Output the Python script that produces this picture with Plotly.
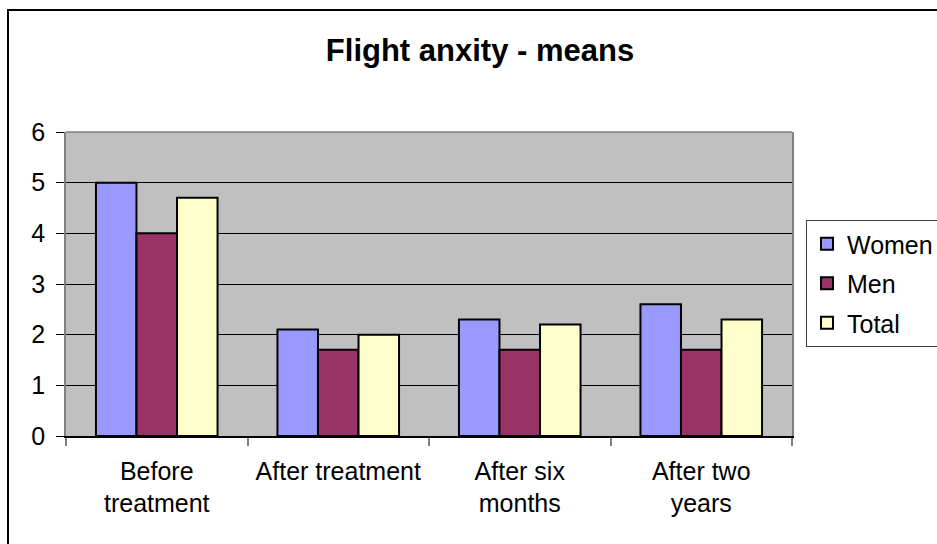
import plotly.graph_objects as go

# Mean flight-anxiety scores at each measurement point
categories = ["Before<br>treatment", "After treatment", "After six<br>months", "After two<br>years"]
women = [5.0, 2.1, 2.3, 2.6]
men = [4.0, 1.7, 1.7, 1.7]
total = [4.7, 2.0, 2.2, 2.3]

series = [
    ("Women", women, "#9999FF"),
    ("Men", men, "#993366"),
    ("Total", total, "#FFFFCC"),
]

FONT = "Arial, 'Liberation Sans', sans-serif"

fig = go.Figure()
for i, (name, vals, color) in enumerate(series):
    fig.add_trace(go.Bar(
        name=name, x=categories, y=vals,
        marker=dict(color=color, line=dict(color="black", width=2)),
        legendgroup=f"g{i}",
    ))

W, H = 937, 544
L, R, T, B = 66, 145, 132, 108
pw, ph = W - L - R, H - T - B

def px_x(p):
    return (p - L) / pw

def px_y(p):
    return (H - B - p) / ph

fig.update_layout(
    width=W, height=H,
    margin=dict(l=L, r=R, t=T, b=B, autoexpand=False),
    paper_bgcolor="white",
    plot_bgcolor="#C0C0C0",
    font=dict(family=FONT, size=25, color="black"),
    barmode="group",
    bargap=0.33,
    bargroupgap=0,
    title=dict(
        text="<b>Flight anxity - means</b>",
        x=480 / W, xanchor="center",
        y=1 - 50 / H, yanchor="middle",
        font=dict(family=FONT, size=31, color="black"),
    ),
    xaxis=dict(
        type="category",
        tickson="boundaries",
        ticks="outside", ticklen=8, tickcolor="#808080", tickwidth=1.5,
        showline=True, linecolor="black", linewidth=1.5,
        showgrid=False,
        tickfont=dict(size=25),
        ticklabelstandoff=12,
    ),
    yaxis=dict(
        range=[0, 6], dtick=1,
        ticks="outside", ticklen=8, tickcolor="black", tickwidth=1,
        showgrid=True, gridcolor="black", gridwidth=1,
        zeroline=False,
        showline=True, linecolor="#808080", linewidth=1.5, mirror=True,
        tickfont=dict(size=25),
        ticklabelstandoff=6,
    ),
    legend=dict(
        x=px_x(806), xanchor="left",
        y=px_y(220), yanchor="top",
        bgcolor="white",
        bordercolor="#404040", borderwidth=1,
        font=dict(size=25),
        tracegroupgap=4,
        itemwidth=30,
    ),
    showlegend=True,
    shapes=[
        # plot area top edge
        dict(type="line", xref="paper", yref="paper", x0=0, x1=1, y0=1, y1=1,
             line=dict(color="#808080", width=1.5), layer="above"),
        # outer chart frame
        dict(type="rect", xref="paper", yref="paper",
             x0=px_x(8), x1=px_x(960), y0=px_y(570), y1=px_y(10),
             line=dict(color="black", width=2)),
    ],
)

fig.write_html("out.html")
